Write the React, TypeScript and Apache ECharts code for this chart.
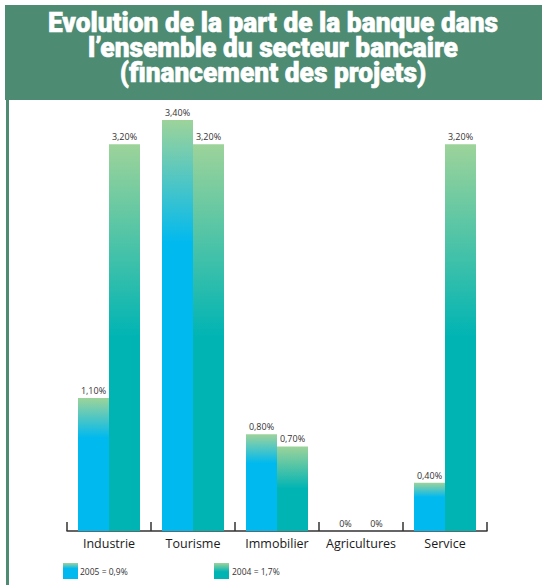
import React, { useEffect, useRef } from "react";
import * as echarts from "echarts";

// Part de la banque par secteur (%), 2005 vs 2004
const categories = ["Industrie", "Tourisme", "Immobilier", "Agricultures", "Service"];
const values2005 = [1.1, 3.4, 0.8, 0, 0.4];
const values2004 = [3.2, 3.2, 0.7, 0, 3.2];
const legendLabels = ["2005 = 0,9%", "2004 = 1,7%"];
const titleLines = [
  "Evolution de la part de la banque dans",
  "l\u2019ensemble du secteur bancaire",
  "(financement des projets)",
];

const GREEN = "#9dd39a";
const BLUE = "#00b9ef";
const TEAL = "#00b4b4";
const HEADER = "#4e8b73";

const gradient = (stop: number, base: string) =>
  new echarts.graphic.LinearGradient(0, 0, 0, 1, [
    { offset: 0, color: GREEN },
    { offset: stop, color: base },
    { offset: 1, color: base },
  ]);

const fmt = (v: number) => (v === 0 ? "0%" : v.toFixed(2).replace(".", ",") + "%");

export default function App() {
  const ref = useRef<HTMLDivElement>(null);

  useEffect(() => {
    if (!ref.current) return;
    const chart = echarts.init(ref.current, null, { renderer: "svg" });

    const labelStyle = {
      show: true,
      position: "top" as const,
      distance: 3,
      fontFamily: "Open Sans",
      fontSize: 9,
      color: "#333",
      formatter: (p: any) => fmt(p.value),
    };

    chart.setOption({
      animation: false,
      backgroundColor: "#fff",
      grid: { left: 67, right: 55, top: 120, bottom: 54 },
      xAxis: {
        type: "category",
        data: categories,
        axisLine: { lineStyle: { color: "#333", width: 1.5 } },
        axisTick: { show: true, inside: true, length: 9, lineStyle: { color: "#333", width: 1.5 } },
        axisLabel: { interval: 0, fontFamily: "Open Sans", fontSize: 12.5, color: "#1a1a1a", margin: 6 },
      },
      yAxis: {
        type: "value",
        min: 0,
        max: 3.4,
        show: false,
        splitLine: { show: false },
      },
      series: [
        {
          name: legendLabels[0],
          type: "bar",
          data: values2005,
          barWidth: 31,
          barGap: "0%",
          itemStyle: { color: gradient(0.3, BLUE) },
          label: labelStyle,
        },
        {
          name: legendLabels[1],
          type: "bar",
          data: values2004,
          barWidth: 31,
          itemStyle: { color: gradient(0.5, TEAL) },
          label: labelStyle,
        },
      ],
      graphic: [
        { type: "rect", z: -1, shape: { x: 5, y: 5, width: 537, height: 95 }, style: { fill: HEADER } },
        { type: "rect", z: -1, shape: { x: 6, y: 100, width: 3, height: 485 }, style: { fill: HEADER } },
        {
          type: "group",
          x: 273,
          y: 0,
          scaleX: 0.94,
          children: titleLines.map((line, i) => ({
            type: "text",
            x: 0,
            y: 23 + i * 25,
            style: {
              text: line,
              fontFamily: "Roboto",
              fontWeight: 900,
              fontSize: 28,
              fill: "#fff",
              stroke: "#fff",
              lineWidth: 0.6,
              textAlign: "center",
              verticalAlign: "middle",
            },
          })),
        },
        {
          type: "rect",
          shape: { x: 63, y: 563, width: 15, height: 16 },
          style: { fill: gradient(0.35, BLUE) },
        },
        {
          type: "text",
          x: 80,
          y: 571,
          style: { text: legendLabels[0], fontFamily: "Open Sans", fontSize: 8.5, fill: "#333", verticalAlign: "middle" },
        },
        {
          type: "rect",
          shape: { x: 214, y: 563, width: 15, height: 16 },
          style: { fill: gradient(0.55, TEAL) },
        },
        {
          type: "text",
          x: 232,
          y: 571,
          style: { text: legendLabels[1], fontFamily: "Open Sans", fontSize: 8.5, fill: "#333", verticalAlign: "middle" },
        },
      ],
    });

    return () => chart.dispose();
  }, []);

  return (
    <div
      ref={ref}
      style={{ position: "fixed", left: 0, top: 0, width: 542, height: 585 }}
    />
  );
}
